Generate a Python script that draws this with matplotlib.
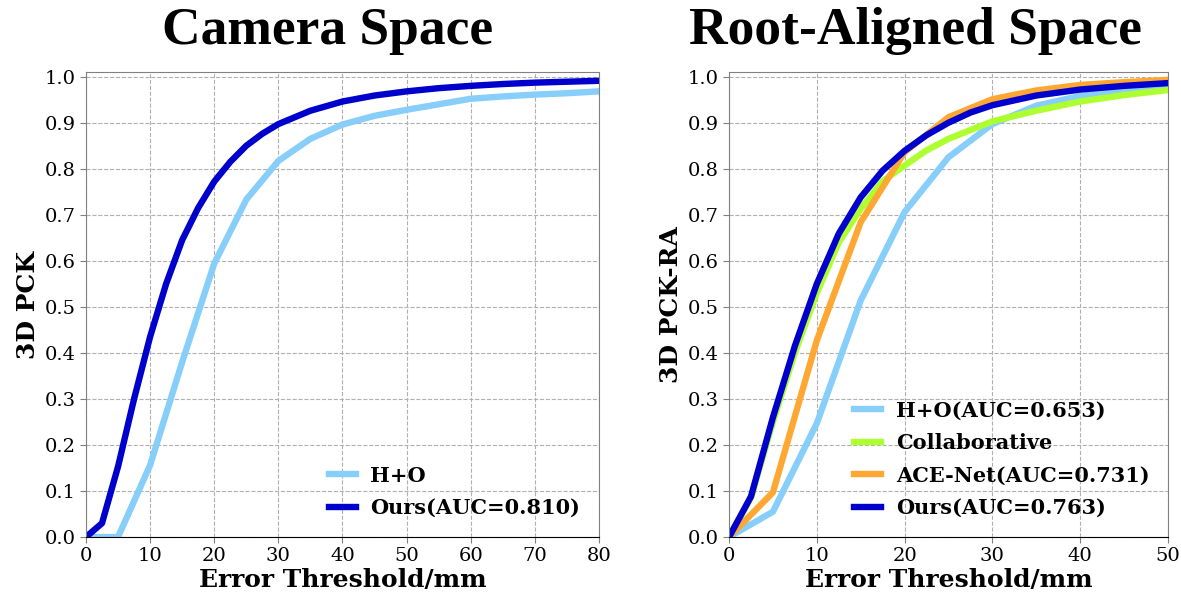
import numpy as np
import matplotlib
matplotlib.use("Agg")
import matplotlib.pyplot as plt

# Camera space
cam_ho_x = [0, 5, 10, 15, 20, 25, 30, 35, 40, 45, 50, 55, 60, 65, 70, 75, 80]
cam_ho_y = [0.0, 0.0, 0.156, 0.38, 0.594, 0.733, 0.817, 0.865, 0.896, 0.915, 0.928, 0.94, 0.952, 0.957, 0.961, 0.964, 0.968]
cam_ours_x = [0, 2.5, 5, 7.5, 10, 12.5, 15, 17.5, 20, 22.5, 25, 27.5, 30, 35, 40, 45, 50, 55, 60, 65, 70, 75, 80]
cam_ours_y = [0.0, 0.03, 0.153, 0.30, 0.435, 0.55, 0.645, 0.715, 0.772, 0.815, 0.85, 0.876, 0.897, 0.926, 0.946, 0.959, 0.968, 0.975, 0.98, 0.984, 0.987, 0.989, 0.991]

# Root-aligned space
ra_ho_x = [0, 5, 10, 15, 20, 25, 30, 35, 40, 45, 50]
ra_ho_y = [0.0, 0.055, 0.247, 0.514, 0.706, 0.825, 0.897, 0.937, 0.958, 0.972, 0.98]
ra_col_x = [0, 2.5, 5, 7.5, 10, 12.5, 15, 17.5, 20, 22.5, 25, 30, 35, 40, 45, 50]
ra_col_y = [0.0, 0.085, 0.25, 0.40, 0.53, 0.64, 0.713, 0.773, 0.807, 0.84, 0.865, 0.903, 0.926, 0.946, 0.96, 0.971]
ra_ace_x = [0, 5, 10, 15, 20, 25, 30, 35, 40, 45, 50]
ra_ace_y = [0.0, 0.097, 0.427, 0.684, 0.836, 0.912, 0.951, 0.97, 0.982, 0.988, 0.993]
ra_ours_x = [0, 2.5, 5, 7.5, 10, 12.5, 15, 17.5, 20, 22.5, 25, 27.5, 30, 35, 40, 45, 50]
ra_ours_y = [0.0, 0.088, 0.26, 0.415, 0.55, 0.659, 0.738, 0.796, 0.839, 0.873, 0.9, 0.922, 0.938, 0.959, 0.972, 0.98, 0.986]

c_ho = "#87CEFA"
c_ours = "#0000CD"
c_col = "#ADFF2F"
c_ace = "#FFA733"
lw = 4.6

fig = plt.figure(figsize=(11.81, 5.93), dpi=100)
ax1 = fig.add_axes([0.0728, 0.0944, 0.4344, 0.7841])
ax2 = fig.add_axes([0.6173, 0.0944, 0.3717, 0.7841])

ax1.plot(cam_ho_x, cam_ho_y, color=c_ho, lw=lw, label="H+O")
ax1.plot(cam_ours_x, cam_ours_y, color=c_ours, lw=lw, label="Ours(AUC=0.810)")
ax1.set_xlim(0, 80)
ax1.set_xticks(np.arange(0, 81, 10))
ax1.set_ylabel("3D PCK", fontfamily="DejaVu Serif", fontweight="bold", fontsize=18, labelpad=3)

ax2.plot(ra_ho_x, ra_ho_y, color=c_ho, lw=lw, label="H+O(AUC=0.653)")
ax2.plot(ra_col_x, ra_col_y, color=c_col, lw=lw, label="Collaborative")
ax2.plot(ra_ace_x, ra_ace_y, color=c_ace, lw=lw, label="ACE-Net(AUC=0.731)")
ax2.plot(ra_ours_x, ra_ours_y, color=c_ours, lw=lw, label="Ours(AUC=0.763)")
ax2.set_xlim(0, 50)
ax2.set_xticks(np.arange(0, 51, 10))
ax2.set_ylabel("3D PCK-RA", fontfamily="DejaVu Serif", fontweight="bold", fontsize=18, labelpad=3)

for ax in (ax1, ax2):
    ax.set_ylim(0, 1.01)
    ax.set_yticks(np.arange(0, 1.01, 0.1))
    ax.set_yticklabels([f"{v:.1f}" for v in np.arange(0, 1.01, 0.1)])
    ax.grid(True, linestyle="--", color="#b0b0b0", linewidth=0.8)
    ax.set_axisbelow(True)
    for s in ax.spines.values():
        s.set_color("#808080")
    ax.spines["bottom"].set_color("black")
    ax.tick_params(colors="#808080", labelcolor="black", length=4, labelsize=14)
    for lab in ax.get_xticklabels() + ax.get_yticklabels():
        lab.set_fontfamily("DejaVu Serif")
    ax.set_xlabel("Error Threshold/mm", fontfamily="DejaVu Serif", fontweight="bold", fontsize=18, labelpad=2)
    ax.legend(loc="lower right", frameon=False, prop={"family": "DejaVu Serif", "weight": "bold", "size": 15},
              handlelength=1.3, handletextpad=0.7, labelspacing=0.6, borderaxespad=0.5)

# titles sit centred over each panel incl. its labels
fig.text(0.277, 0.947, "Camera Space", ha="center", va="center",
         fontfamily="Liberation Serif", fontweight="bold", fontsize=38.5)
fig.text(0.775, 0.947, "Root-Aligned Space", ha="center", va="center",
         fontfamily="Liberation Serif", fontweight="bold", fontsize=38.5)

fig.savefig("out.png", dpi=100)
